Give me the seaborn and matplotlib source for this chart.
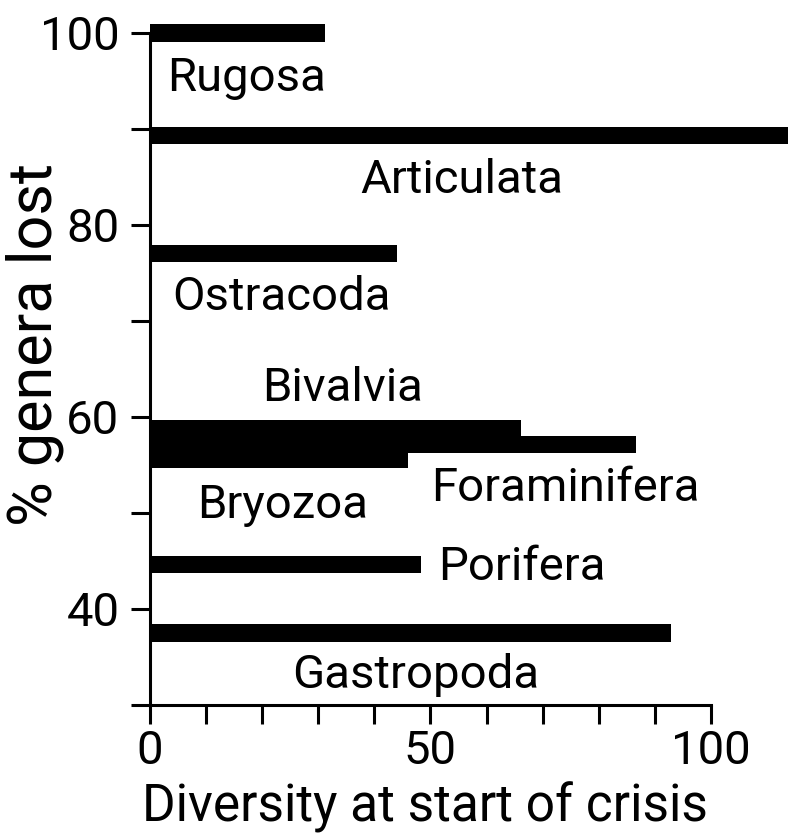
import numpy as np
import seaborn as sns
from matplotlib import pyplot as plt

sns.set_theme(style="ticks")
plt.rcParams["font.family"] = ["Roboto", "DejaVu Sans"]
plt.rcParams["text.color"] = "black"
plt.rcParams["axes.labelcolor"] = "black"

# values
taxa = ["Rugosa", "Articulata", "Ostracoda", "Bivalvia", "Foraminifera",
        "Bryozoa", "Porifera", "Gastropoda"]
genera_lost = [100.0, 89.3, 77.0, 58.8, 57.1, 55.6, 44.6, 37.5]
diversity = [31.2, 113.7, 44.1, 66.1, 86.6, 46.0, 48.3, 92.8]

# where each name sits (data coords)
label_x = [17.3, 55.5, 23.4, 34.4, 74.0, 23.6, 66.3, 47.4]
label_y = [95.3, 84.7, 72.5, 63.0, 52.6, 50.8, 44.4, 33.1]

fig = plt.figure(figsize=(7.95, 8.33), dpi=100)
ax = fig.add_axes([0.1887, 0.1537, 0.993 - 0.1887, 0.972 - 0.1537])

bar_h = 1.8
min_gap = np.diff(np.sort(genera_lost)).min()
sns.barplot(x=diversity, y=genera_lost, orient="h", native_scale=True,
            color="black", saturation=1, width=bar_h / min_gap,
            linewidth=0, errorbar=None, ax=ax)

for name, tx, ty in zip(taxa, label_x, label_y):
    ax.text(tx, ty, name, ha="center", va="center", fontsize=34, color="black")

ax.set_xlim(0, 114)
ax.set_ylim(30, 101)

ax.set_xticks([0, 50, 100])
ax.set_xticks(np.arange(0, 101, 10), minor=True)
ax.set_yticks([40, 60, 80, 100])
ax.set_yticks([30, 50, 70, 90], minor=True)

ax.tick_params(which="both", length=14, width=2.2, color="black",
               labelsize=34, labelcolor="black")
ax.tick_params(axis="x", which="both", pad=3)
ax.tick_params(axis="y", which="both", pad=8)

sns.despine(ax=ax)
for side in ["left", "bottom"]:
    ax.spines[side].set_linewidth(2.2)
    ax.spines[side].set_color("black")
ax.spines["left"].set_bounds(30, 100)
ax.spines["bottom"].set_bounds(0, 100)

ax.set_xlabel("Diversity at start of crisis", fontsize=37, color="black")
ax.set_ylabel("% genera lost", fontsize=44, color="black")
ax.xaxis.set_label_coords(0.430, -0.112)
ax.yaxis.set_label_coords(-0.1346, 0.529)

fig.savefig("out.png", dpi=100)
